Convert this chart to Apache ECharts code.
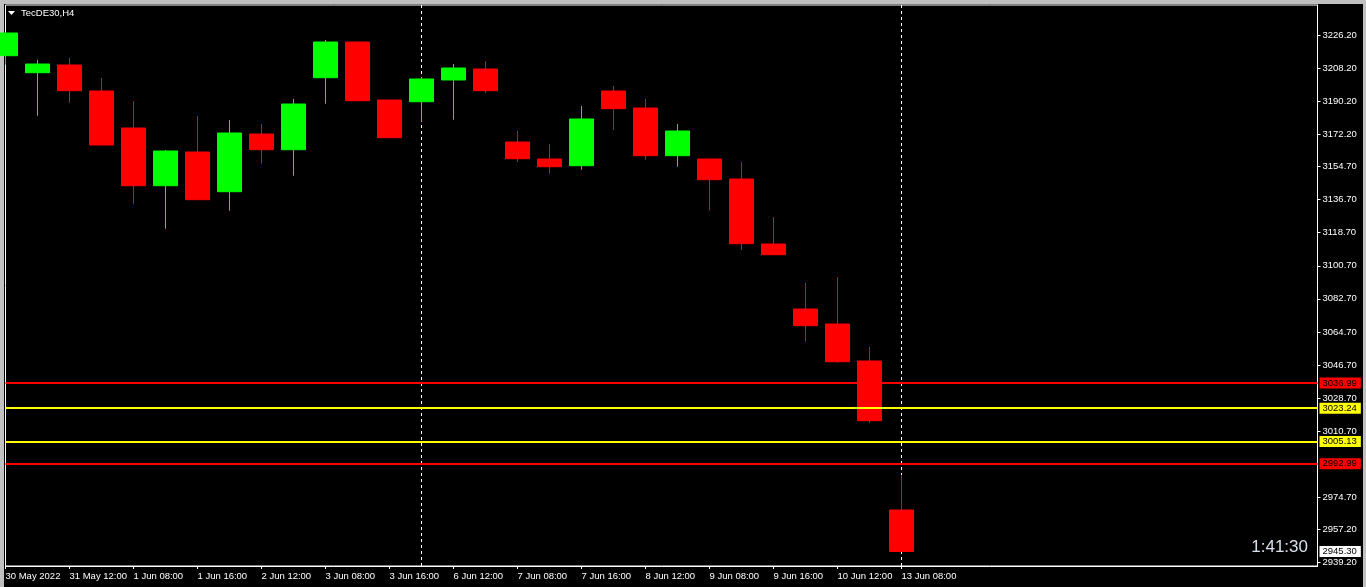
<!DOCTYPE html>
<html>
<head>
<meta charset="utf-8">
<script src="https://cdn.jsdelivr.net/npm/echarts@6/dist/echarts.min.js"></script>
<style>
html,body{margin:0;padding:0;width:1366px;height:587px;overflow:hidden;background:#c0c0c0;}
#bg{position:absolute;left:4px;top:4px;width:1359px;height:583px;background:#000;}
#chart{position:absolute;left:0;top:0;width:1366px;height:587px;}
</style>
</head>
<body>
<div id="bg"></div>
<div id="chart"></div>
<script>
// ---- data (TecDE30, H4) ----
const times = ['30 May 2022','31 May 08:00','31 May 12:00','31 May 16:00','1 Jun 08:00','1 Jun 12:00','1 Jun 16:00',
  '2 Jun 08:00','2 Jun 12:00','2 Jun 16:00','3 Jun 08:00','3 Jun 12:00','3 Jun 16:00','6 Jun 08:00','6 Jun 12:00',
  '6 Jun 16:00','7 Jun 08:00','7 Jun 12:00','7 Jun 16:00','8 Jun 08:00','8 Jun 12:00','8 Jun 16:00','9 Jun 08:00',
  '9 Jun 12:00','9 Jun 16:00','10 Jun 08:00','10 Jun 12:00','10 Jun 16:00','13 Jun 08:00'];
const open  = [3214.94,3205.70,3209.88,3195.74,3175.62,3144.24,3162.57,3140.98,3172.36,3163.82,3202.98,3222.39,3190.85,3189.92,3201.73,3207.71,3168.01,3158.76,3155.12,3195.74,3186.50,3160.56,3158.76,3147.88,3112.53,3077.18,3069.02,3048.90,2967.87];
const close = [3227.29,3210.43,3195.91,3166.38,3144.24,3163.11,3136.63,3172.90,3163.82,3188.67,3222.39,3190.47,3170.35,3202.27,3208.25,3195.91,3158.92,3154.57,3180.52,3186.12,3160.56,3173.99,3147.50,3112.70,3106.71,3068.10,3048.52,3016.43,2945.30];
const low   = [3210.05,3182.31,3189.38,3166.20,3134.45,3120.85,3136.50,3130.64,3156.21,3149.68,3188.84,3190.14,3170.20,3179.05,3180.13,3194.82,3157.29,3150.77,3152.94,3174.70,3158.38,3154.57,3130.64,3109.43,3106.60,3059.40,3047.98,3015.34,2945.30];
const high  = [3227.40,3212.60,3213.85,3202.81,3190.31,3163.65,3182.15,3179.97,3177.80,3191.39,3223.48,3222.60,3191.00,3203.40,3210.43,3212.06,3173.99,3166.92,3187.59,3198.46,3191.39,3177.80,3159.00,3157.13,3127.22,3091.32,3094.59,3056.52,2986.90];
const emptySlots = 13;
const yTicks = [3226.20,3208.20,3190.20,3172.20,3154.70,3136.70,3118.70,3100.70,3082.70,3064.70,3046.70,3028.70,3010.70,2974.70,2957.20,2939.20];
const yMin = 2937.41, yMax = 3242.52;
const levelValues = [3036.99, 3023.24, 3005.13, 2992.99];
const levelColors = ['#ff0000', '#ffff00', '#ffff00', '#ff0000'];
const currentPrice = 2945.30;
const separators = [13, 28];
const title = 'TecDE30,H4';
const clock = '1:41:30';

// ---- chart ----
const FONT = 'Liberation Sans';
const slots = times.concat(Array.from({length: emptySlots}, (_, i) => '_' + i));
const ohlc = open.map((o, i) => [o, close[i], low[i], high[i]]);
const showTick = (idx) => idx < times.length && idx % 2 === 0;

const levelItems = levelValues.map((v, i) => ({
  yAxis: v,
  lineStyle: {color: levelColors[i], width: 2, type: 'solid'},
  label: {show: true, position: 'end', distance: 2, formatter: v.toFixed(2),
    backgroundColor: levelColors[i], color: '#000', padding: [1, 4, 0, 3],
    fontFamily: FONT, fontSize: 9.5, lineHeight: 10}
}));
levelItems.push({
  yAxis: currentPrice,
  lineStyle: {color: 'rgba(0,0,0,0)', width: 1},
  label: {show: true, position: 'end', distance: 2, formatter: currentPrice.toFixed(2),
    backgroundColor: '#ffffff', color: '#000', padding: [1, 4, 0, 3],
    fontFamily: FONT, fontSize: 9.5, lineHeight: 10}
});

const chart = echarts.init(document.getElementById('chart'), null, {renderer: 'canvas'});
chart.setOption({
  animation: false,
  backgroundColor: 'transparent',
  grid: {left: 5.5, right: 48.5, top: 5, bottom: 21, show: true, borderColor: '#ffffff', borderWidth: 1},
  xAxis: {
    type: 'category', data: slots, boundaryGap: false,
    axisLine: {show: true, lineStyle: {color: '#ffffff', width: 1}},
    axisTick: {show: true, interval: showTick, length: 3, lineStyle: {color: '#ffffff'}},
    axisLabel: {interval: showTick, align: 'left', margin: 5, color: '#ffffff', fontFamily: FONT, fontSize: 9.5},
    splitLine: {show: false}
  },
  yAxis: {
    type: 'value', position: 'right', min: yMin, max: yMax, scale: true,
    axisLine: {show: true, lineStyle: {color: '#ffffff', width: 1}},
    axisTick: {show: true, length: 3, customValues: yTicks, lineStyle: {color: '#ffffff'}},
    axisLabel: {customValues: yTicks, formatter: (v) => v.toFixed(2), color: '#ffffff', margin: 5, fontFamily: FONT, fontSize: 9.5},
    splitLine: {show: false}
  },
  graphic: [
    {type: 'polygon', shape: {points: [[8, 11], [15, 11], [11.5, 15]]}, style: {fill: '#ffffff'}, silent: true},
    {type: 'text', x: 21, y: 13, style: {text: title, fill: '#ffffff', font: '9.5px "Liberation Sans"', verticalAlign: 'middle'}, silent: true},
    {type: 'text', x: 1308, y: 547, style: {text: clock, fill: '#d8e0ea', font: '17px "Liberation Sans"', align: 'right', verticalAlign: 'middle'}, silent: true}
  ],
  series: [
    {
      type: 'line', data: [], z: 1, silent: true,
      markLine: {z: 1, silent: true, symbol: 'none', animation: false,
        label: {show: false},
        lineStyle: {color: '#ffffff', width: 1, type: [3, 3]},
        data: separators.map(i => ({xAxis: i}))}
    },
    {
      type: 'candlestick', z: 2, silent: true, data: ohlc, barWidth: 24,
      itemStyle: {color: '#00ff00', color0: '#ff0000', borderColor: '#00ff00', borderColor0: '#ff0000', borderWidth: 1}
    },
    {
      type: 'line', data: [], z: 3, silent: true,
      markLine: {z: 6, silent: true, symbol: 'none', animation: false, data: levelItems}
    }
  ]
});
</script>
</body>
</html>
